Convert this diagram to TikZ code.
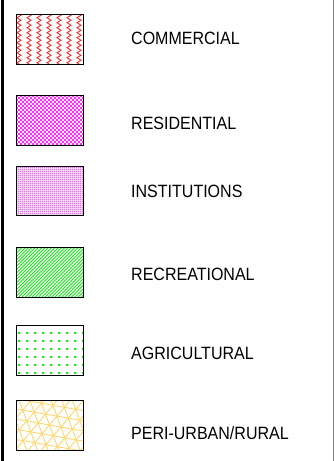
\documentclass[tikz,border=0pt]{standalone}
\usepackage{fontspec}
\newfontfamily\lblfont[FakeStretch=0.9]{Liberation Sans}
\usetikzlibrary{decorations.pathmorphing}
\definecolor{comred}{RGB}{255,30,30}
\definecolor{resmag}{RGB}{255,0,255}
\definecolor{instpink}{RGB}{240,170,240}
\definecolor{instline}{RGB}{225,120,225}
\definecolor{recgreen}{RGB}{20,235,20}
\definecolor{agrgreen}{RGB}{0,240,0}
\definecolor{periyel}{RGB}{255,215,110}
\tikzset{
  legbox/.style={draw=black, line width=0.9},
  leglabel/.style={anchor=west, inner sep=0pt, font=\lblfont\fontsize{17.8}{18}\selectfont},
}
\begin{document}
\begin{tikzpicture}[x=1pt,y=-1pt]
\useasboundingbox (0,0) rectangle (334,461);
% frame lines
\fill[black] (1,0) rectangle (4,461);
\draw[gray, line width=1] (333.5,0) -- (333.5,461);

% 1 commercial
\begin{scope}
\clip (16,14) rectangle (83,64);
\foreach \c in {0,...,6}
  \draw[comred, line width=0.8, decorate, decoration={zigzag, segment length=5, amplitude=2}] (19+10*\c,14) -- (19+10*\c,64);
\end{scope}
\draw[legbox] (16,14) rectangle (83,64);

% 2 residential
\begin{scope}
\clip (16,95) rectangle (83,145);
\foreach \k in {-14,...,32} {
  \draw[resmag, line width=0.7] (16+4*\k,95) -- ++(50,50);
  \draw[resmag, line width=0.7] (16+4*\k,145) -- ++(50,-50);
}
\end{scope}
\draw[legbox] (16,95) rectangle (83,145);

% 3 institutions
\begin{scope}
\clip (16,166) rectangle (83,215);
\fill[instpink!80] (16,166) rectangle (83,215);
\foreach \k in {0,...,34}
  \draw[instline, line width=0.45] (16+2*\k,166) -- (16+2*\k,215);
\foreach \k in {0,...,25}
  \draw[white, line width=0.3, opacity=0.6] (16,166+2*\k) -- (83,166+2*\k);
\end{scope}
\draw[legbox] (16,166) rectangle (83,215);

% 4 recreational
\begin{scope}
\clip (16,247) rectangle (83,297);
\foreach \k in {-2,...,40}
  \draw[recgreen, line width=0.9] (16+3.3*\k,247) -- ++(-50,50);
\end{scope}
\draw[legbox] (16,247) rectangle (83,297);

% 5 agricultural
\begin{scope}
\clip (16,325) rectangle (83,375);
\foreach \i in {0,...,8}
  \foreach \j in {0,...,6}
    \fill[agrgreen] (17.7+8*\i,323.5+8*\j) rectangle ++(2,2);
\end{scope}
\draw[legbox] (16,325) rectangle (83,375);

% 6 peri-urban
\begin{scope}
\clip (16,400) rectangle (83,450);
\foreach \a in {-10,50,110} {
  \begin{scope}[rotate around={\a:(49.5,425)}]
    \foreach \k in {-7,...,7}
      \draw[periyel, line width=0.9] (-20,425+10*\k) -- (120,425+10*\k);
  \end{scope}
}
\end{scope}
\draw[legbox] (16,400) rectangle (83,450);

% labels
\node[leglabel] (lcom) at (131,38.7) {COMMERCIAL};
\node[leglabel] (lres) at (131,123.3) {RESIDENTIAL};
\node[leglabel] (lins) at (131,191) {INSTITUTIONS};
\node[leglabel] (lrec) at (131,274) {RECREATIONAL};
\node[leglabel] (lagr) at (131,353) {AGRICULTURAL};
\node[leglabel] (lper) at (131,433) {PERI-URBAN/RURAL};
\end{tikzpicture}
\end{document}
